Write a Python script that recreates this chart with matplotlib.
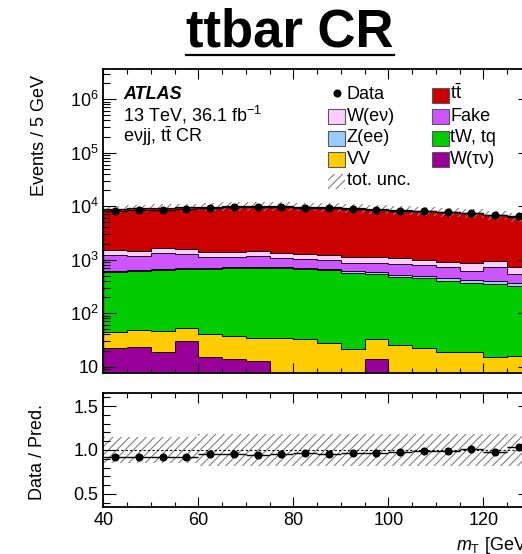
import matplotlib
matplotlib.use("Agg")
import matplotlib.pyplot as plt
import numpy as np
from matplotlib.lines import Line2D
from matplotlib.patches import Rectangle
from matplotlib.ticker import FixedLocator, FormatStrFormatter, FuncFormatter, LogLocator, MultipleLocator

plt.rcParams["font.family"] = ["Liberation Sans", "DejaVu Sans"]
plt.rcParams["mathtext.fontset"] = "custom"
plt.rcParams["mathtext.rm"] = "Liberation Sans"
plt.rcParams["mathtext.it"] = "Liberation Sans:italic"
plt.rcParams["mathtext.bf"] = "Liberation Sans:bold"
plt.rcParams["hatch.linewidth"] = 0.8

# m_T bins, 5 GeV wide
bin_edges = np.arange(40, 135, 5)

# stacked backgrounds (bottom -> top), events / bin
w_taunu = [21, 22, 18, 29, 14, 13, 12, 4, 3, 4, 3, 13, 3, 2, 3, 2, 2, 2]
vv = [22, 25, 27, 23, 25, 23, 22, 29, 29, 23, 17, 19, 21, 19, 15, 16, 12, 13]
tw_tq = [554, 576, 596, 608, 640, 663, 675, 657, 638, 614, 552, 509, 457, 428, 387, 343, 333, 307]
z_ee = [26, 27, 29, 30, 30, 32, 31, 30, 29, 29, 43, 56, 44, 47, 44, 56, 46, 50]
fake = [601, 522, 645, 588, 398, 407, 432, 342, 318, 317, 264, 282, 306, 300, 272, 206, 328, 175]
w_enu = [293, 283, 317, 307, 306, 275, 303, 290, 261, 237, 259, 259, 231, 191, 197, 232, 210, 174]
ttbar = [7353, 7685, 7748, 7945, 8377, 8677, 8615, 8738, 8512, 8306, 8112, 7732, 7428, 7143, 6872, 6505, 5919, 5479]

data = [8200, 8450, 8610, 8750, 9310, 9640, 9520, 9640, 9400, 9100, 8910, 8600, 8270, 8070, 7740, 7410, 6720, 6430]

# relative total uncertainty per bin
tot_unc = [0.15, 0.15, 0.15, 0.15, 0.18, 0.18, 0.18, 0.18, 0.18, 0.18, 0.18, 0.18, 0.18, 0.18, 0.18, 0.18, 0.18, 0.18]

stack = [
    ("W(τν)", w_taunu, "#990099"),
    ("VV", vv, "#FFCC00"),
    ("tW, tq", tw_tq, "#00CC00"),
    ("Z(ee)", z_ee, "#99CCFF"),
    ("Fake", fake, "#CC55FF"),
    ("W(eν)", w_enu, "#FFCCFF"),
    (r"t$\bar{\mathrm{t}}$", ttbar, "#CC0000"),
]

W, H = 522, 554


def fx(x):
    return x / W


def fy(y):
    return 1 - y / H


fig = plt.figure(figsize=(W / 100, H / 100), dpi=100)
x0, x1 = 103.3, 530.8
ax = fig.add_axes([fx(x0), fy(373), (x1 - x0) / W, (373 - 69) / H])
rax = fig.add_axes([fx(x0), fy(507), (x1 - x0) / W, (507 - 393) / H])

centers = 0.5 * (bin_edges[:-1] + bin_edges[1:])
half = 0.5 * np.diff(bin_edges)

# stacked histogram
bottom = np.full(len(centers), 1.0)
for name, vals, col in stack:
    top = bottom + np.asarray(vals, float)
    ax.stairs(top, bin_edges, baseline=bottom, fill=True, facecolor=col,
              edgecolor="k", lw=0.6)
    bottom = top
total = bottom - 1.0
unc = np.asarray(tot_unc)

ax.stairs(total * (1 + unc), bin_edges, baseline=total * (1 - unc), fill=True,
          facecolor="none", edgecolor="0.5", hatch="////", lw=0)
ax.stairs(total, bin_edges, color="k", lw=0.9)
ax.errorbar(centers, data, xerr=half, fmt="o", color="k", ms=4.8,
            elinewidth=1.0, capsize=0, zorder=5)

ax.set_yscale("log")
ax.set_xlim(40, 130)
ax.set_ylim(7.62, 3.66e6)
ax.yaxis.set_major_locator(LogLocator(base=10, numticks=12))
ax.yaxis.set_minor_locator(LogLocator(base=10, subs=np.arange(2, 10), numticks=12))
ax.yaxis.set_major_formatter(FuncFormatter(
    lambda v, p: "10" if abs(v - 10) < 1e-6 else r"$10^{%d}$" % round(np.log10(v))))

# ratio panel
ratio = np.asarray(data) / total
rax.stairs(1 + unc, bin_edges, baseline=1 - unc, fill=True, facecolor="none",
           edgecolor="0.5", hatch="////", lw=0)
rax.axhline(1.0, color="k", lw=0.8, ls=(0, (2, 2)))
rax.errorbar(centers, ratio, xerr=half, fmt="o", color="k", ms=4.8,
             elinewidth=1.0, capsize=0, zorder=5)
rax.set_xlim(40, 130)
rax.set_ylim(0.35, 1.65)
rax.yaxis.set_major_locator(FixedLocator([0.5, 1.0, 1.5]))
rax.yaxis.set_minor_locator(MultipleLocator(0.1))
rax.yaxis.set_major_formatter(FormatStrFormatter("%.1f"))

for a in (ax, rax):
    a.xaxis.set_major_locator(MultipleLocator(20))
    a.xaxis.set_minor_locator(MultipleLocator(5))
    a.tick_params(which="both", direction="in", top=True, right=True,
                  width=0.8, labelsize=13, pad=3.6)
    a.tick_params(axis="y", which="major", length=9.4)
    a.tick_params(axis="y", which="minor", length=4.7)
    a.tick_params(axis="x", which="major", length=7)
    a.tick_params(axis="x", which="minor", length=3.6)
    for s in a.spines.values():
        s.set_linewidth(1.3)
ax.tick_params(axis="x", labelbottom=False)

# axis titles
fig.text(fx(39), fy(135), "Events / 5 GeV", rotation=90, ha="center",
         va="center", fontsize=13)
fig.text(fx(37), fy(452), "Data / Pred.", rotation=90, ha="center",
         va="center", fontsize=13)
fig.text(fx(531), fy(550.5), r"$m_\mathrm{T}$ [GeV]", ha="right",
         va="baseline", fontsize=13)

# ATLAS label
fig.text(fx(123.3), fy(99), "ATLAS", weight="bold", style="italic",
         fontsize=13, va="baseline")
fig.text(fx(123.3), fy(121), r"13 TeV, 36.1 fb$^{-1}$", fontsize=13, va="baseline")
fig.text(fx(123.3), fy(142), r"eνjj, t$\bar{\mathrm{t}}$ CR", fontsize=13, va="baseline")

# legend, two columns
rows = [99.3, 120.8, 142.3, 163.8, 185.3]
col1 = [("Data", None), ("W(eν)", "#FFCCFF"), ("Z(ee)", "#99CCFF"),
        ("VV", "#FFCC00"), ("tot. unc.", "hatch")]
col2 = [(r"t$\bar{\mathrm{t}}$", "#CC0000"), ("Fake", "#CC55FF"),
        ("tW, tq", "#00CC00"), ("W(τν)", "#990099")]
for entries, bx, tx in ((col1, 328.0, 346.7), (col2, 432.0, 450.0)):
    for (lab, col), yb in zip(entries, rows):
        ybot = yb + 3.5
        if col is None:
            fig.add_artist(Line2D([fx(bx + 8.7)], [fy(yb - 6)], marker="o",
                                  ms=4.8, color="k", transform=fig.transFigure))
        elif col == "hatch":
            fig.add_artist(Rectangle((fx(bx), fy(ybot)), 17 / W, 15 / H,
                                     facecolor="none", edgecolor="0.5",
                                     hatch="////", lw=0, transform=fig.transFigure))
        else:
            fig.add_artist(Rectangle((fx(bx), fy(ybot)), 17 / W, 15 / H,
                                     facecolor=col, edgecolor="0.35", lw=0.8,
                                     transform=fig.transFigure))
        fig.text(fx(tx), fy(yb), lab, fontsize=13, va="baseline")

# title with underline
title = fig.text(fx(290), fy(46.7), "ttbar CR", ha="center", va="baseline",
                 fontsize=38, weight="bold")
fig.canvas.draw()
bb = title.get_window_extent(fig.canvas.get_renderer())
fig.add_artist(Line2D([bb.x0 / W, bb.x1 / W], [fy(55), fy(55)], color="k",
                      lw=1.6, transform=fig.transFigure))

fig.savefig("out.png", dpi=100)
